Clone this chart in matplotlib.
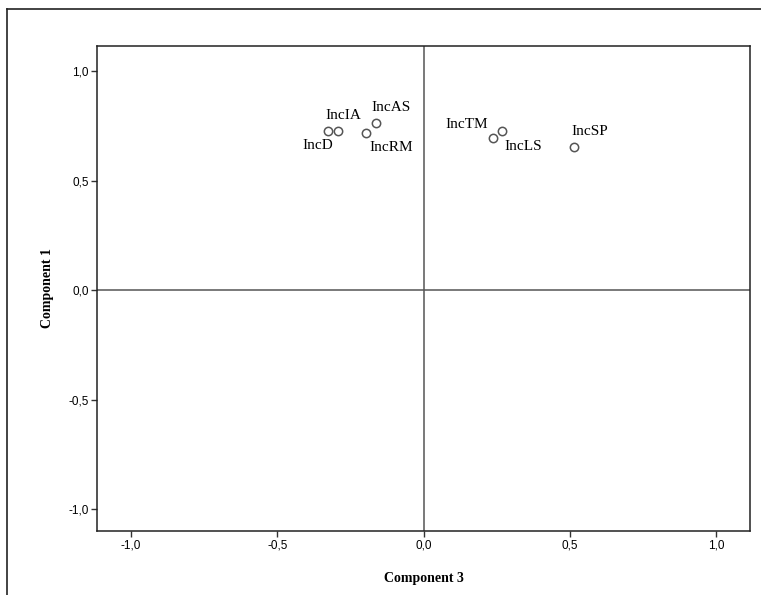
import matplotlib
matplotlib.use("Agg")
import matplotlib.pyplot as plt
from matplotlib.lines import Line2D

# component loadings
names = ["IncD", "IncIA", "IncAS", "IncRM", "IncTM", "IncLS", "IncSP"]
comp3 = [-0.328, -0.291, -0.161, -0.198, 0.267, 0.239, 0.516]
comp1 = [0.726, 0.726, 0.763, 0.717, 0.726, 0.694, 0.653]

tick_vals = [-1.0, -0.5, 0.0, 0.5, 1.0]
tick_labels = ["-1,0", "-0,5", "0,0", "0,5", "1,0"]

# label offsets in pixels from the marker (left edge / vertical centre of text)
label_pos = {
    "IncD": (-25, -15),
    "IncIA": (-13, 15),
    "IncAS": (-5, 15),
    "IncRM": (4, -15),
    "IncTM": (-56, 6),
    "IncLS": (11, -8),
    "IncSP": (-3, 15),
}

fig = plt.figure(figsize=(7.61, 5.95), dpi=100)
ax = fig.add_axes([97 / 761, 1 - 531 / 595, 653 / 761, 485 / 595])

ax.axhline(0, color="#555555", lw=1.1, zorder=1)
ax.axvline(0, color="#555555", lw=1.1, zorder=1)

ax.plot(comp3, comp1, "o", ms=6, mfc="white", mec="#555555", mew=1.1, zorder=3)

for n, x, y in zip(names, comp3, comp1):
    dx, dy = label_pos[n]
    ax.annotate(n, (x, y), xytext=(dx, dy), textcoords="offset pixels",
                ha="left", va="center", fontsize=11, family="Liberation Serif")

ax.set_xlim(-1.116, 1.116)
ax.set_ylim(-1.10, 1.114)
ax.set_xticks(tick_vals)
ax.set_xticklabels(tick_labels, family="Liberation Sans", fontsize=8.5)
ax.set_yticks(tick_vals)
ax.set_yticklabels(tick_labels, family="Liberation Sans", fontsize=8.5)
ax.tick_params(direction="out", length=4, width=1, color="#333333", pad=2)

for s in ax.spines.values():
    s.set_linewidth(1.1)
    s.set_color("#222222")

ax.set_xlabel("Component 3", family="Liberation Serif", fontweight="bold",
              fontsize=10, labelpad=15)
ax.set_ylabel("Component 1", family="Liberation Serif", fontweight="bold",
              fontsize=10, labelpad=10)

# outer frame (clipped at right and bottom, as in the export)
fig.add_artist(Line2D([7 / 761, 7 / 761], [0, 1 - 9 / 595], color="#222222", lw=1.2))
fig.add_artist(Line2D([7 / 761, 1], [1 - 9 / 595, 1 - 9 / 595], color="#222222", lw=1.2))

fig.savefig("out.png", dpi=100)
